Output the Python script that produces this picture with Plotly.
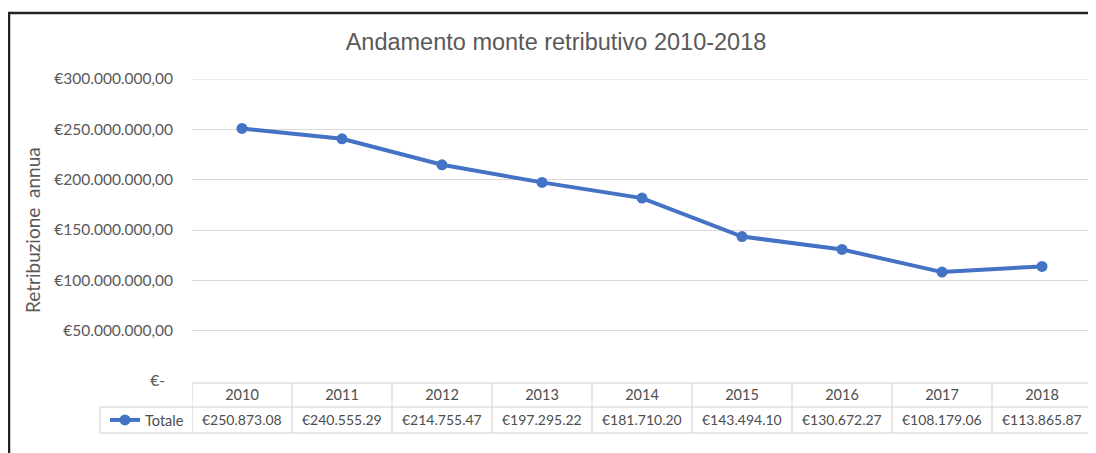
import plotly.graph_objects as go

# ---- data ----
years = ["2010", "2011", "2012", "2013", "2014", "2015", "2016", "2017", "2018"]
totale = [250873080, 240555290, 214755470, 197295220, 181710200,
          143494100, 130672270, 108179060, 113865870]
y_tickvals = [0, 50000000, 100000000, 150000000, 200000000, 250000000, 300000000]
y_ticktext = ["€-\u00a0\u00a0", "€50.000.000,00", "€100.000.000,00", "€150.000.000,00",
              "€200.000.000,00", "€250.000.000,00", "€300.000.000,00"]
series_name = "Totale"
title_text = "Andamento monte retributivo 2010-2018"
y_title = "Retribuzione  annua"


def table_label(v):
    s = f"{v / 1000:,.2f}".replace(",", ".")
    return "€" + s


OFF = 8  # page body margin
W, H = 1096 - OFF, 453 - OFF
L, T = 192 - OFF, 79 - OFF
R = W - (1092 - OFF)
B = H - (381 - OFF)
PW, PH = W - L - R, H - T - B


def px_x(p):
    return (p - OFF - L) / PW


def px_y(p):
    return (H - B - (p - OFF)) / PH


BLUE = "#4472C4"
GRID = "#dcd8d8"
TXT = "#595959"
TBL = "#4d4d4d"

fig = go.Figure()
fig.add_trace(go.Scatter(
    x=years, y=totale, name=series_name, mode="lines+markers",
    line=dict(color=BLUE, width=4),
    marker=dict(color=BLUE, size=11),
))

shapes = []
n = len(years)
line_style = dict(color="#d0d0d0", width=1)
# top gridline at the range edge
shapes.append(dict(type="line", xref="paper", yref="y", x0=0, x1=1,
                   y0=y_tickvals[-1], y1=y_tickvals[-1], line=dict(color=GRID, width=1),
                   layer="below"))
for i in range(n + 1):
    shapes.append(dict(type="line", xref="x", yref="paper", x0=i - 0.5, x1=i - 0.5,
                       y0=px_y(383), y1=px_y(433), line=line_style))
shapes.append(dict(type="line", xref="x", yref="paper", x0=-0.5, x1=n - 0.5,
                   y0=px_y(383), y1=px_y(383), line=line_style))
for py in (407, 433):
    shapes.append(dict(type="line", xref="paper", yref="paper", x0=px_x(100), x1=1,
                       y0=px_y(py), y1=px_y(py), line=line_style))
shapes.append(dict(type="line", xref="paper", yref="paper", x0=px_x(100), x1=px_x(100),
                   y0=px_y(407), y1=px_y(433), line=line_style))
# outer black frame (top and left)
shapes.append(dict(type="line", xref="paper", yref="paper", x0=px_x(8), x1=px_x(1100),
                   y0=px_y(13), y1=px_y(13), line=dict(color="#222222", width=2.5)))
shapes.append(dict(type="line", xref="paper", yref="paper", x0=px_x(9), x1=px_x(9),
                   y0=px_y(12), y1=px_y(460), line=dict(color="#222222", width=2.5)))

annotations = []
for i, v in enumerate(totale):
    annotations.append(dict(x=i, xref="x", y=px_y(420), yref="paper",
                            text=table_label(v), showarrow=False,
                            font=dict(family="Lato", size=14, color=TBL),
                            xanchor="center", yanchor="middle"))
annotations.append(dict(x=px_x(32), xref="paper", y=px_y(230), yref="paper",
                        text=y_title, textangle=-90, showarrow=False,
                        font=dict(family="Lato", size=19, color=TXT),
                        xanchor="center", yanchor="middle"))

fig.update_layout(
    width=W, height=H, autosize=False,
    margin=dict(l=L, r=R, t=T, b=B),
    paper_bgcolor="white", plot_bgcolor="white",
    title=dict(text=title_text, x=(556 - OFF) / W, xanchor="center", y=1 - (42 - OFF) / H,
               yanchor="middle", font=dict(family="Liberation Sans", size=23.5, color=TXT)),
    showlegend=True,
    legend=dict(x=px_x(105), xanchor="left", y=px_y(420), yanchor="middle",
                font=dict(family="Lato", size=14.5, color=TBL),
                bgcolor="rgba(0,0,0,0)", itemwidth=30),
    shapes=shapes,
    annotations=annotations,
    xaxis=dict(type="category", range=[-0.5, n - 0.5], showgrid=False,
               showline=False, zeroline=False, ticks="", ticklabelstandoff=3,
               tickfont=dict(family="Lato", size=14.5, color=TBL)),
    yaxis=dict(range=[0, y_tickvals[-1]], tickvals=y_tickvals, ticktext=y_ticktext,
               showgrid=True, gridcolor=GRID, gridwidth=1, zeroline=False,
               showline=False, ticks="", ticklabelstandoff=18,
               tickfont=dict(family="Lato", size=15.5, color=TXT)),
)

fig.write_html("out.html")
